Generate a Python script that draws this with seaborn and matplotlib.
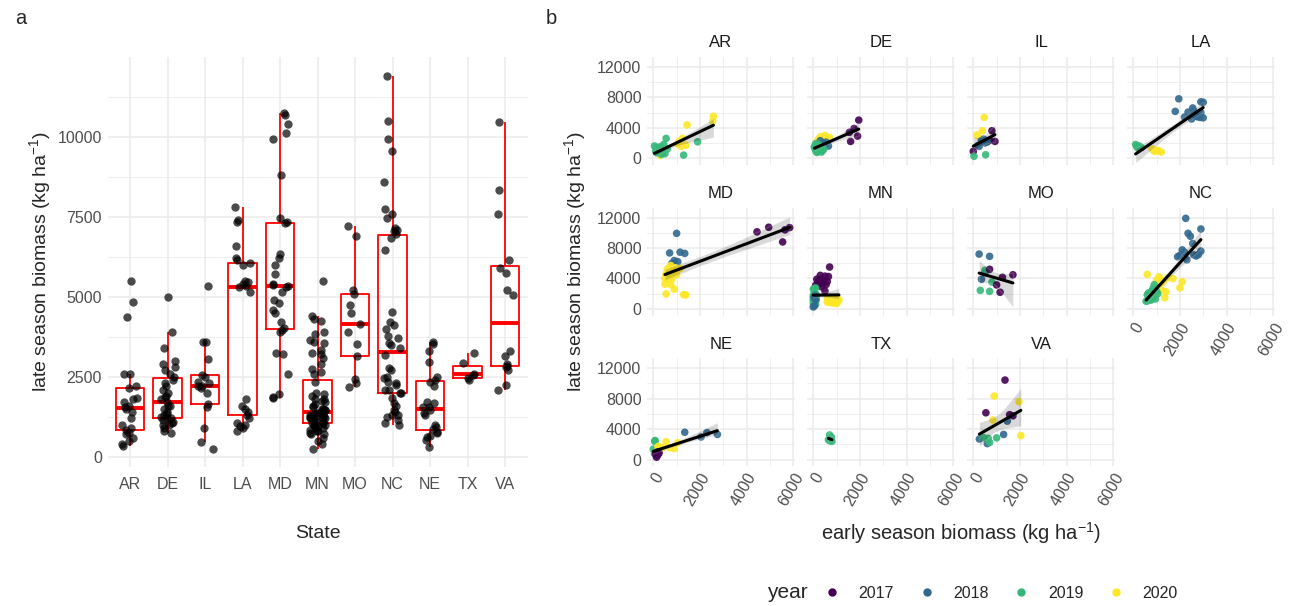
import numpy as np
import pandas as pd
import matplotlib.pyplot as plt
import matplotlib.lines as mlines
from matplotlib.ticker import FixedLocator
import seaborn as sns

STATES = ["AR", "DE", "IL", "LA", "MD", "MN", "MO", "NC", "NE", "TX", "VA"]
YEARS = [2017, 2018, 2019, 2020]
YEAR_COLORS = ["#440154", "#31688E", "#35B779", "#FDE725"]

# (year, early season biomass, late season biomass) in kg/ha
AR = [(2020, 2580, 5500), (2020, 2550, 4850), (2020, 1450, 4370), (2020, 1250, 2600),
      (2020, 1100, 2200), (2020, 1050, 1850), (2020, 1400, 1700), (2020, 1200, 1550),
      (2020, 300, 350), (2019, 1900, 2150), (2019, 1300, 400), (2019, 50, 1600),
      (2019, 150, 1400), (2019, 300, 1500), (2019, 450, 1800), (2019, 600, 1200),
      (2019, 200, 1000), (2019, 100, 900), (2019, 250, 850), (2019, 400, 750),
      (2019, 150, 700), (2019, 500, 600), (2019, 350, 500), (2019, 550, 2600)]
DE = [(2017, 1950, 5000), (2017, 1750, 3900), (2017, 1550, 3400), (2017, 1900, 2900),
      (2017, 1600, 2200), (2020, 300, 2800), (2020, 500, 3000), (2020, 400, 2600),
      (2020, 600, 2500), (2020, 200, 2400), (2020, 700, 2700), (2018, 500, 1800),
      (2018, 650, 1600), (2018, 400, 2000), (2018, 300, 2300), (2018, 550, 2100),
      (2019, 100, 1900), (2019, 200, 1700), (2019, 50, 1500), (2019, 150, 1300),
      (2019, 250, 1200), (2019, 300, 1100), (2019, 100, 1000), (2019, 200, 900),
      (2019, 350, 800), (2019, 50, 1400), (2019, 150, 1150), (2019, 400, 1000),
      (2019, 250, 1600), (2019, 100, 1250), (2019, 300, 1350), (2019, 200, 1870),
      (2019, 150, 750), (2019, 350, 1050), (2019, 450, 1200)]
IL = [(2020, 470, 5350), (2020, 390, 3600), (2020, 150, 3050), (2020, 300, 2550),
      (2017, 800, 3600), (2017, 930, 2200), (2017, 0, 900), (2017, 700, 2350),
      (2017, 600, 2150), (2019, 30, 250), (2019, 530, 450), (2018, 200, 1650),
      (2018, 500, 2000), (2018, 350, 2300), (2018, 450, 2500), (2018, 250, 1550),
      (2018, 600, 2200)]
LA = [(2018, 1950, 7800), (2018, 2900, 7400), (2018, 3000, 7350), (2018, 2550, 6600),
      (2018, 2600, 6200), (2018, 2900, 6000), (2018, 1800, 6150), (2018, 2350, 6050),
      (2018, 2700, 5500), (2018, 2200, 5400), (2018, 2860, 5350), (2018, 3000, 5300),
      (2018, 2500, 5150), (2018, 2750, 5450), (2019, 100, 1800), (2019, 250, 1600),
      (2019, 350, 1400), (2019, 200, 1300), (2019, 150, 1500), (2020, 800, 1200),
      (2020, 1000, 1000), (2020, 1100, 950), (2020, 900, 900), (2020, 1200, 800),
      (2020, 950, 1050)]
MD = [(2017, 4950, 10730), (2017, 5850, 10680), (2017, 5650, 10390), (2017, 4450, 10125),
      (2017, 5550, 8800), (2018, 1000, 9930), (2018, 1150, 7450), (2018, 700, 7350),
      (2018, 1350, 7290), (2018, 900, 6350), (2018, 1050, 6200), (2018, 800, 5990),
      (2020, 750, 5700), (2020, 650, 5365), (2020, 1150, 5300), (2020, 600, 5160),
      (2020, 900, 4900), (2020, 700, 4800), (2020, 550, 4590), (2020, 1000, 4490),
      (2020, 500, 4020), (2020, 800, 3960), (2020, 600, 3900), (2020, 500, 3240),
      (2020, 750, 3200), (2020, 900, 2590), (2020, 550, 1960), (2020, 1300, 1875),
      (2020, 1400, 1830), (2020, 950, 5400), (2020, 850, 5350), (2020, 700, 4200)]
MN = [(2017, 700, 5500), (2017, 300, 4400), (2017, 500, 4300), (2017, 650, 4250),
      (2017, 150, 3900), (2017, 300, 3850), (2017, 450, 3650), (2017, 200, 3550),
      (2017, 600, 3600), (2017, 400, 3350), (2017, 250, 3250), (2017, 550, 3200),
      (2017, 100, 3100), (2017, 350, 2900), (2017, 500, 2350),
      (2019, 50, 2650), (2019, 100, 2750), (2019, 0, 2600), (2019, 80, 2000),
      (2019, 30, 1950), (2019, 120, 1900), (2019, 60, 1800), (2019, 0, 1750),
      (2019, 100, 1700), (2019, 40, 1650), (2019, 80, 1600), (2019, 20, 1550),
      (2019, 120, 1500), (2019, 60, 1450), (2019, 0, 1400), (2019, 100, 1380),
      (2019, 40, 1350), (2019, 80, 1300), (2019, 20, 1250), (2019, 120, 1200),
      (2019, 60, 1150), (2019, 0, 1100), (2019, 100, 1050), (2019, 40, 1000),
      (2019, 80, 950), (2019, 20, 900), (2019, 60, 800), (2019, 0, 700),
      (2019, 100, 600), (2019, 40, 500),
      (2018, 50, 400), (2018, 0, 250), (2018, 100, 1200), (2018, 30, 1500),
      (2018, 80, 1800),
      (2020, 600, 1450), (2020, 700, 1400), (2020, 800, 1350), (2020, 900, 1300),
      (2020, 1000, 1250), (2020, 1100, 1200), (2020, 650, 1150), (2020, 750, 1100),
      (2020, 850, 1050), (2020, 950, 1000), (2020, 1050, 950), (2020, 600, 900),
      (2020, 700, 850), (2020, 800, 800), (2020, 900, 750), (2020, 1000, 700),
      (2020, 750, 1300), (2020, 850, 1200)]
MO = [(2018, 250, 7200), (2018, 700, 6900), (2018, 350, 3900), (2018, 500, 4740),
      (2019, 500, 5080), (2019, 300, 2430), (2019, 700, 2300), (2019, 800, 3520),
      (2017, 700, 5200), (2017, 1000, 3150), (2017, 1150, 2180), (2017, 1700, 4480),
      (2017, 1250, 4150)]
NC = [(2018, 2250, 11900), (2018, 2900, 10500), (2018, 2350, 9930), (2018, 2450, 9550),
      (2018, 2550, 8600), (2018, 2100, 7750), (2018, 2900, 7600), (2018, 2200, 7450),
      (2018, 2800, 7150), (2018, 2600, 7100), (2018, 2000, 7050), (2018, 2700, 6950),
      (2018, 1900, 6850), (2018, 2300, 6450),
      (2020, 600, 4530), (2020, 1100, 4220), (2020, 1500, 4120), (2020, 1700, 3980),
      (2020, 1000, 3770), (2020, 1300, 3700), (2020, 2100, 3560), (2020, 1250, 3490),
      (2020, 1150, 3400), (2020, 2000, 2760), (2020, 1200, 2500), (2020, 1400, 2240),
      (2020, 700, 1680), (2020, 1350, 1460),
      (2019, 900, 3180), (2019, 850, 2700), (2019, 950, 2450), (2019, 800, 2350),
      (2019, 1000, 2300), (2019, 650, 2100), (2019, 900, 2080), (2019, 750, 2000),
      (2019, 1050, 1990), (2019, 600, 1850), (2019, 850, 1600), (2019, 700, 1400),
      (2019, 800, 1300), (2019, 950, 1300), (2019, 650, 1250), (2019, 750, 1150),
      (2019, 600, 1050), (2019, 550, 1000)]
NE = [(2018, 1350, 3590), (2018, 2750, 3310), (2018, 2300, 3540), (2018, 2050, 2970),
      (2019, 60, 2400), (2019, 0, 1370), (2019, 100, 640), (2019, 150, 940),
      (2019, 50, 780), (2019, 200, 1300), (2019, 120, 520), (2019, 80, 2500),
      (2020, 200, 1720), (2020, 700, 1550), (2020, 1050, 2210), (2020, 400, 1560),
      (2020, 250, 1680), (2020, 900, 1450), (2020, 550, 2350),
      (2017, 140, 310), (2017, 200, 625), (2017, 100, 735), (2017, 250, 870),
      (2017, 180, 1000)]
TX = [(2019, 700, 3230), (2019, 780, 2920), (2019, 650, 2600), (2019, 750, 2550),
      (2019, 720, 2450), (2019, 800, 2400)]
VA = [(2017, 1360, 10450), (2017, 540, 6150), (2017, 1560, 5900), (2017, 1700, 5750),
      (2020, 900, 8350), (2020, 1960, 7600), (2020, 840, 5200), (2020, 2040, 3150),
      (2018, 260, 2700), (2018, 1300, 3300), (2018, 1460, 5050), (2018, 600, 2100),
      (2019, 440, 2900), (2019, 700, 2250), (2019, 1000, 2850), (2019, 640, 2800)]

rows = []
for st, pts in zip(STATES, [AR, DE, IL, LA, MD, MN, MO, NC, NE, TX, VA]):
    for yr, early, late in pts:
        rows.append((st, yr, early, late))
df = pd.DataFrame(rows, columns=["state", "year", "early", "late"])

sns.set_theme(style="white")
plt.rcParams["font.family"] = ["Liberation Sans", "DejaVu Sans"]
plt.rcParams["mathtext.default"] = "regular"

GRID = "#EBEBEB"
TICK = "#4D4D4D"
W, H = 1289, 606
palette = dict(zip(YEARS, YEAR_COLORS))


def rect(x0, y0, x1, y1):
    # pixel box (top-left origin) -> figure fraction
    return [x0 / W, 1 - y1 / H, (x1 - x0) / W, (y1 - y0) / H]


def minimal(ax):
    for s in ax.spines.values():
        s.set_visible(False)
    ax.set_axisbelow(True)
    ax.grid(which="major", color=GRID, linewidth=1.1)
    ax.grid(which="minor", color=GRID, linewidth=0.55)
    ax.tick_params(which="both", length=0, labelsize=11.5, labelcolor=TICK)


fig = plt.figure(figsize=(W / 100, H / 100), dpi=100)

# ---- panel a: boxplot + jitter
ax = fig.add_axes(rect(107.5, 57.3, 527.5, 467.4))
sns.boxplot(data=df, x="state", y="late", order=STATES, fill=False, color="red",
            width=0.75, linewidth=1.3, showfliers=False,
            medianprops={"color": "red", "linewidth": 2.8},
            whiskerprops={"color": "red", "linewidth": 1.3},
            capprops={"color": "red", "visible": False}, ax=ax)
np.random.seed(3)
sns.stripplot(data=df, x="state", y="late", order=STATES, color="black", alpha=0.7,
              jitter=0.22, size=6, linewidth=0, ax=ax)
ax.set_xlim(-0.6, len(STATES) - 0.4)
ax.set_ylim(-330, 12480)
ax.set_yticks([0, 2500, 5000, 7500, 10000])
ax.yaxis.set_minor_locator(FixedLocator([1250, 3750, 6250, 8750, 11250]))
minimal(ax)
ax.grid(which="minor", axis="x", visible=False)
ax.tick_params(axis="x", pad=7)
ax.tick_params(axis="y", pad=4)
ax.set_xlabel("")
ax.set_ylabel("")
fig.text(40 / W, 1 - 262 / H, r"late season biomass (kg ha$^{-1}$)", rotation=90,
         ha="center", va="center", fontsize=14)
fig.text(317.5 / W, 1 - 533 / H, "State", ha="center", va="center", fontsize=14)

# ---- panel b: facets
for i, st in enumerate(STATES):
    r, c = divmod(i, 4)
    x0 = 647 + 160 * c
    y0 = 57 + 150.7 * r
    fx = fig.add_axes(rect(x0, y0, x0 + 148, y0 + 108))
    sub = df[df["state"] == st]
    sns.scatterplot(data=sub, x="early", y="late", hue="year", palette=palette,
                    s=30, alpha=0.9, linewidth=0, legend=False, ax=fx)
    sns.regplot(data=sub, x="early", y="late", scatter=False, color="black",
                ci=95, seed=0, truncate=True, line_kws={"linewidth": 2.2}, ax=fx)
    fx.set_xlim(-270, 6080)
    fx.set_ylim(-900, 13300)
    fx.set_xticks([0, 2000, 4000, 6000])
    fx.xaxis.set_minor_locator(FixedLocator([1000, 3000, 5000]))
    fx.set_yticks([0, 4000, 8000, 12000])
    fx.yaxis.set_minor_locator(FixedLocator([2000, 6000, 10000]))
    minimal(fx)
    fx.set_xlabel("")
    fx.set_ylabel("")
    fx.set_title(st, fontsize=12, color="#1A1A1A", pad=7)
    if c != 0:
        fx.tick_params(axis="y", labelleft=False)
    else:
        fx.tick_params(axis="y", pad=4)
    if i < 7:
        fx.tick_params(axis="x", labelbottom=False)
    else:
        plt.setp(fx.get_xticklabels(), rotation=60, ha="right", rotation_mode="anchor")
        fx.tick_params(axis="x", pad=3)

fig.text(575 / W, 1 - 262 / H, r"late season biomass (kg ha$^{-1}$)", rotation=90,
         ha="center", va="center", fontsize=14)
fig.text(961 / W, 1 - 533 / H, r"early season biomass (kg ha$^{-1}$)",
         ha="center", va="center", fontsize=14.5)

# panel tags
fig.text(15 / W, 1 - 18 / H, "a", ha="left", va="center", fontsize=14.5)
fig.text(546 / W, 1 - 18 / H, "b", ha="left", va="center", fontsize=14.5)

# legend
handles = [mlines.Line2D([], [], linestyle="none", marker="o", markersize=5,
                         color=col) for col in YEAR_COLORS]
fig.text(787 / W, 1 - 593 / H, "year", ha="center", va="center", fontsize=15)
fig.legend(handles, [str(y) for y in YEARS], loc="center left",
           bbox_to_anchor=(822 / W, 1 - 593 / H), ncol=4, frameon=False,
           fontsize=11.5, handlelength=1.3, handletextpad=1.0, columnspacing=1.4,
           borderaxespad=0, borderpad=0)

fig.savefig("out.png", dpi=100)
